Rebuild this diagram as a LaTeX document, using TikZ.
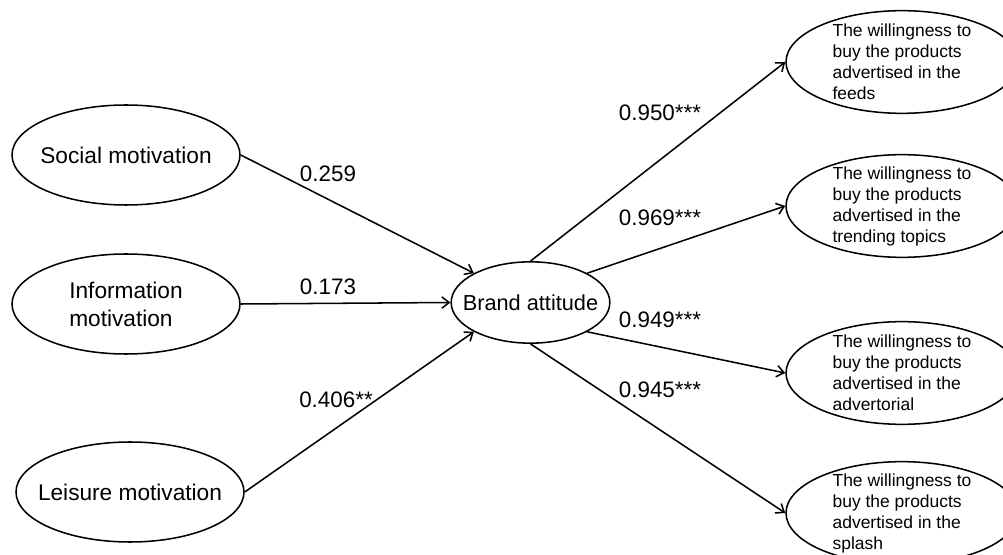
\documentclass[tikz,border=0pt]{standalone}
\usepackage{fontspec}
\setmainfont{Liberation Sans}
\usetikzlibrary{shapes.geometric,arrows.meta}

\begin{document}
\begin{tikzpicture}[x=0.75pt, y=-0.75pt, >={Straight Barb[length=5.5pt,width=8.5pt]},
	motive/.style={draw, ellipse, line width=1.15pt, minimum width=171pt, minimum height=75pt,
		inner xsep=-10pt, font=\fontsize{17}{21}\selectfont, align=left},
	attitude/.style={draw, ellipse, line width=1.15pt, minimum width=119pt, minimum height=61pt,
		inner xsep=-14pt, font=\fontsize{16.3}{19}\selectfont},
	intent/.style={draw, ellipse, line width=1.15pt, minimum width=174pt, minimum height=77pt,
		inner xsep=0pt, inner ysep=-6pt, align=left,
		font=\fontsize{13.1}{15.75}\selectfont},
	coef/.style={font=\fontsize{16.8}{20}\selectfont},
	link/.style={line width=1.15pt, ->}]
	
	\path[use as bounding box, clip] (0,0) rectangle (1003,555);
	
	% motivations
	\node[motive] (social) at (126,155) {Social motivation};
	\node[motive] (info) at (126,304) {Information\\motivation};
	\node[motive] (leisure) at (130,492) {Leisure motivation};
	
	\node[attitude] (brand) at (530.5,302.5) {Brand attitude};
	
	% willingness
	\node[intent] (feeds) at (902,62) {The willingness to\\buy the products\\advertised in the\\feeds};
	\node[intent] (trend) at (902,206) {The willingness to\\buy the products\\advertised in the\\trending topics};
	\node[intent] (advert) at (902,373) {The willingness to\\buy the products\\advertised in the\\advertorial};
	\node[intent] (splash) at (902,513) {The willingness to\\buy the products\\advertised in the\\splash};
	
	\draw[link] (social.east) -- (brand.north west);
	\draw[link] (info.east) -- (brand.west);
	\draw[link] (leisure.east) -- (brand.south west);
	
	\draw[link] (brand.north) -- (feeds.west);
	\draw[link] (brand.north east) -- (trend.west);
	\draw[link] (brand.south east) -- (advert.west);
	\draw[link] (brand.south) -- (splash.west);
	
	\node[coef] (c1) at (328,174) {0.259};
	\node[coef] (c2) at (328,287) {0.173};
	\node[coef] (c3) at (336,400) {0.406**};
	\node[coef] (c4) at (660,113) {0.950***};
	\node[coef] (c5) at (660,218) {0.969***};
	\node[coef] (c6) at (660,320) {0.949***};
	\node[coef] (c7) at (660,390) {0.945***};
	
\end{tikzpicture}
\end{document}
